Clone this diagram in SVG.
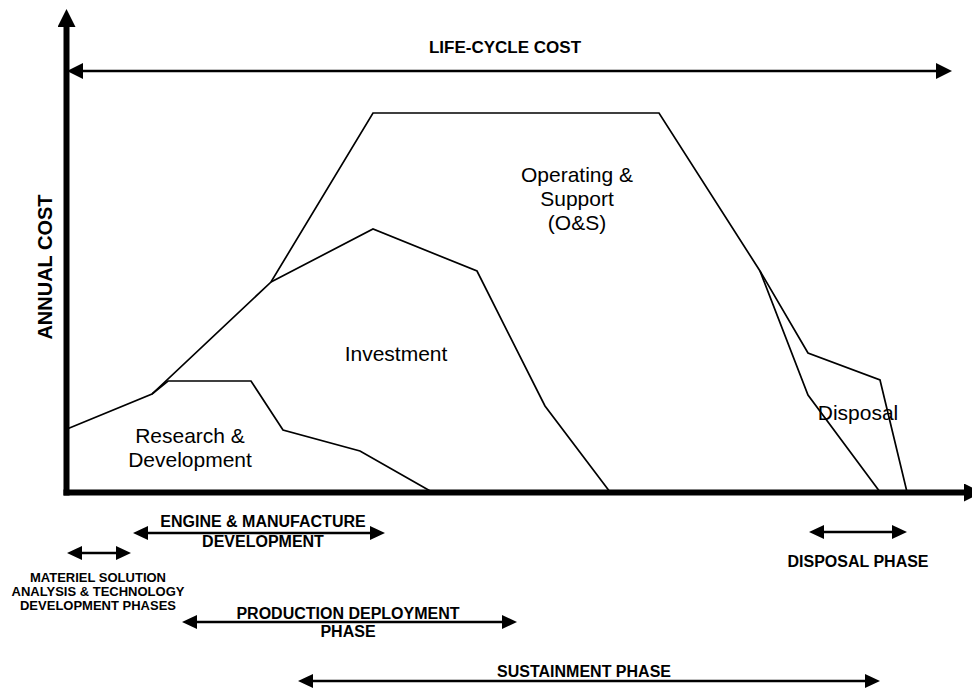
<svg xmlns="http://www.w3.org/2000/svg" width="972" height="690" viewBox="0 0 972 690">
<style>
  .curve { fill: none; stroke: #000; stroke-width: 1.7; stroke-linejoin: miter; }
  .axis { stroke: #000; stroke-width: 6; fill: none; }
  .bar { stroke: #000; stroke-width: 2.5; fill: none; marker-start: url(#ph); marker-end: url(#ph); }
  .lbl { font-family: "Liberation Sans", Arial, sans-serif; font-size: 21px; fill: #000; text-anchor: middle; }
  .bold { font-family: "Liberation Sans", Arial, sans-serif; font-weight: bold; fill: #000; text-anchor: middle; }
</style>
<defs>
  <marker id="ph" viewBox="0 0 15 14" refX="0" refY="7" markerWidth="15" markerHeight="14" markerUnits="userSpaceOnUse" orient="auto-start-reverse">
    <path d="M0,0 L15,7 L0,14 z" fill="#000"/>
  </marker>
  <marker id="lc" viewBox="0 0 16 16" refX="0" refY="8" markerWidth="16" markerHeight="16" markerUnits="userSpaceOnUse" orient="auto-start-reverse">
    <path d="M0,0 L16,8 L0,16 z" fill="#000"/>
  </marker>
  <marker id="ax" viewBox="0 0 18 18" refX="0" refY="9" markerWidth="18" markerHeight="18" markerUnits="userSpaceOnUse" orient="auto">
    <path d="M0,0 L18,9 L0,18 z" fill="#000"/>
  </marker>
</defs>
<rect width="972" height="690" fill="#fff"/>

<g id="axes">
  <line class="axis" x1="66.5" y1="495.5" x2="66.5" y2="27" marker-end="url(#ax)"/>
  <line class="axis" x1="63.5" y1="492.5" x2="964" y2="492.5" marker-end="url(#ax)"/>
  <text class="bold" style="font-size:20px" transform="translate(52,267) rotate(-90)">ANNUAL COST</text>
</g>

<g id="life-cycle-cost">
  <line x1="83" y1="71" x2="936" y2="71" stroke="#000" stroke-width="2.5" marker-start="url(#lc)" marker-end="url(#lc)"/>
  <text class="bold" style="font-size:17px" x="505" y="53">LIFE-CYCLE COST</text>
</g>

<g id="curves">
  <polyline class="curve" points="67,429 152,394 271,282 373,113 659,113 760,271 808,353 880,380 907,492"/>
  <polyline class="curve" points="152,394 168,381 251,381 283,430 360,451 432,492"/>
  <polyline class="curve" points="271,282 373,229 477,271 545,406 610,492"/>
  <polyline class="curve" points="760,271 808,395 880,492"/>
</g>

<g id="operating-support">
  <text class="lbl" x="577" y="182">Operating &amp;</text>
  <text class="lbl" x="577" y="206">Support</text>
  <text class="lbl" x="577" y="230">(O&amp;S)</text>
</g>
<g id="investment">
  <text class="lbl" x="396" y="361">Investment</text>
</g>
<g id="research-development">
  <text class="lbl" x="190" y="443">Research &amp;</text>
  <text class="lbl" x="190" y="467">Development</text>
</g>
<g id="disposal">
  <text class="lbl" x="858" y="420">Disposal</text>
</g>

<g id="phase-connectors">
  <line class="bar" x1="82" y1="553" x2="116" y2="553"/>
  <line class="bar" x1="148" y1="533" x2="370" y2="533"/>
  <line class="bar" x1="197" y1="622" x2="502" y2="622"/>
  <line class="bar" x1="313" y1="681" x2="865" y2="681"/>
  <line class="bar" x1="824" y1="532" x2="892" y2="532"/>
</g>

<g id="msa-phase">
  <text class="bold" style="font-size:13px" x="98" y="582">MATERIEL SOLUTION</text>
  <text class="bold" style="font-size:13px" x="98" y="596">ANALYSIS &amp; TECHNOLOGY</text>
  <text class="bold" style="font-size:13px" x="98" y="610">DEVELOPMENT PHASES</text>
</g>
<g id="emd-phase">
  <text class="bold" style="font-size:16px" x="263" y="527">ENGINE &amp; MANUFACTURE</text>
  <text class="bold" style="font-size:16px" x="263" y="547">DEVELOPMENT</text>
</g>
<g id="production-phase">
  <text class="bold" style="font-size:16px" x="348" y="619">PRODUCTION DEPLOYMENT</text>
  <text class="bold" style="font-size:16px" x="348" y="637">PHASE</text>
</g>
<g id="sustainment-phase">
  <text class="bold" style="font-size:16px" x="584" y="677">SUSTAINMENT PHASE</text>
</g>
<g id="disposal-phase">
  <text class="bold" style="font-size:16px" x="858" y="567">DISPOSAL PHASE</text>
</g>
</svg>
